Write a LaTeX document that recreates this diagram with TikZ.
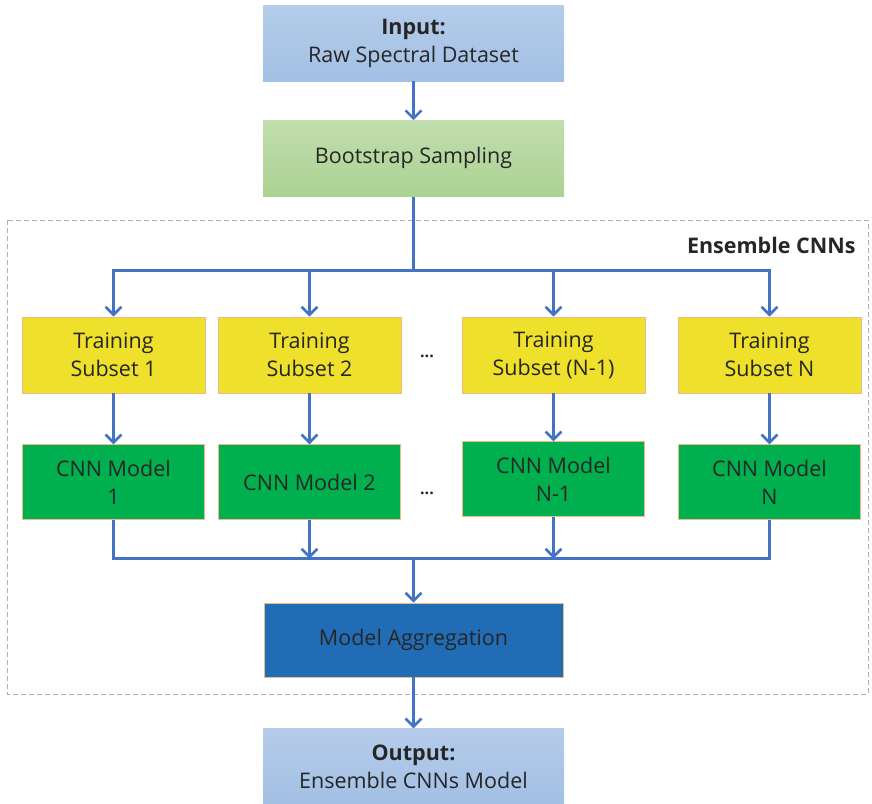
\documentclass[tikz,border=0pt]{standalone}
\usepackage{fontspec}
\setmainfont{Open Sans}
\usetikzlibrary{positioning,arrows.meta}

\definecolor{ioTop}{HTML}{B5CCEA}
\definecolor{ioBot}{HTML}{A2C0E4}
\definecolor{sampTop}{HTML}{C1DEAE}
\definecolor{sampBot}{HTML}{ABD292}
\definecolor{subYellow}{HTML}{EFE02C}
\definecolor{cnnGreen}{HTML}{00B04F}
\definecolor{aggBlue}{HTML}{216DB5}
\definecolor{edgeOrange}{HTML}{F2B988}
\definecolor{flowBlue}{HTML}{4472C4}
\definecolor{frameGrey}{HTML}{9DB3D0}
\definecolor{inkDark}{HTML}{262626}

\begin{document}
\begin{tikzpicture}[x=1pt, y=1pt, node distance=51pt,
    font=\fontsize{21.5}{28}\selectfont, text=inkDark,
    io/.style={top color=ioTop, bottom color=ioBot, minimum width=301pt, minimum height=76pt, align=center, inner sep=0pt},
    samp/.style={top color=sampTop, bottom color=sampBot, minimum width=301pt, minimum height=76pt, align=center, inner sep=0pt},
    subset/.style={draw=edgeOrange, line width=0.7pt, fill=subYellow, minimum width=183pt, minimum height=76pt, align=center, inner sep=0pt},
    cnn/.style={draw=edgeOrange, line width=0.7pt, fill=cnnGreen, minimum width=182pt, minimum height=75pt, align=center, inner sep=0pt},
    agg/.style={draw=edgeOrange, line width=0.7pt, fill=aggBlue, minimum width=299pt, minimum height=74pt, align=center, inner sep=0pt},
    link/.style={draw=flowBlue, line width=2.6pt},
    flow/.style={link, -{Straight Barb[length=8pt,width=16pt,line width=2.6pt]}},
    gap/.style={font=\fontsize{16}{16}\selectfont\bfseries}]
\useasboundingbox (0,0) rectangle (872,-803);

% ensemble frame
\draw[frameGrey, line width=0.8pt, dash pattern=on 5pt off 3pt] (7,-220) rectangle (868,-694);
\node[anchor=east, font=\fontsize{21.5}{22}\selectfont\bfseries] (enslabel) at (859,-245) {Ensemble CNNs};

% input and sampling
\node[io] (in) at (413.5,-43) {\textbf{Input:}\\Raw Spectral Dataset};
\node[samp, below=39pt of in] (boot) {Bootstrap Sampling};

% training subsets
\node[subset] (sub1) at (113.5,-355) {Training\\Subset 1};
\node[subset] (sub2) at (309.5,-355) {Training\\Subset 2};
\node[subset] (sub3) at (553.5,-355) {Training\\Subset (N-1)};
\node[subset] (sub4) at (769.5,-355) {Training\\Subset N};
\node[gap] (dots1) at (427,-356) {...};

% cnn models
\node[cnn, below=of sub1] (cnn1) {CNN Model\\1};
\node[cnn, below=of sub2] (cnn2) {CNN Model 2};
\node[cnn, below=48pt of sub3] (cnn3) {CNN Model\\N-1};
\node[cnn, below=of sub4] (cnn4) {CNN Model\\N};
\node[gap] (dots2) at (427,-493) {...};

% aggregation and output
\node[agg] (agg) at (413.5,-640) {Model Aggregation};
\node[io, below=51pt of agg] (out) {\textbf{Output:}\\Ensemble CNNs Model};

\path (boot.south) ++(0,-74) coordinate (split);
\path (agg.north) ++(0,44) coordinate (merge);

\draw[flow] (in) -- (boot);
\draw[link] (boot) -- (split);
\draw[flow] (split) -| (sub1);
\draw[flow] (split) -| (sub4);
\draw[flow] (split -| sub2) -- (sub2);
\draw[flow] (split -| sub3) -- (sub3);
\foreach \i in {1,...,4}
  \draw[flow] (sub\i) -- (cnn\i);
\draw[link] (cnn1) |- (merge);
\draw[link] (cnn4) |- (merge);
\draw[flow] (cnn2) -- (cnn2 |- merge);
\draw[flow] (cnn3) -- (cnn3 |- merge);
\draw[flow] (merge) -- (agg);
\draw[flow] (agg) -- (out);
\end{tikzpicture}
\end{document}
